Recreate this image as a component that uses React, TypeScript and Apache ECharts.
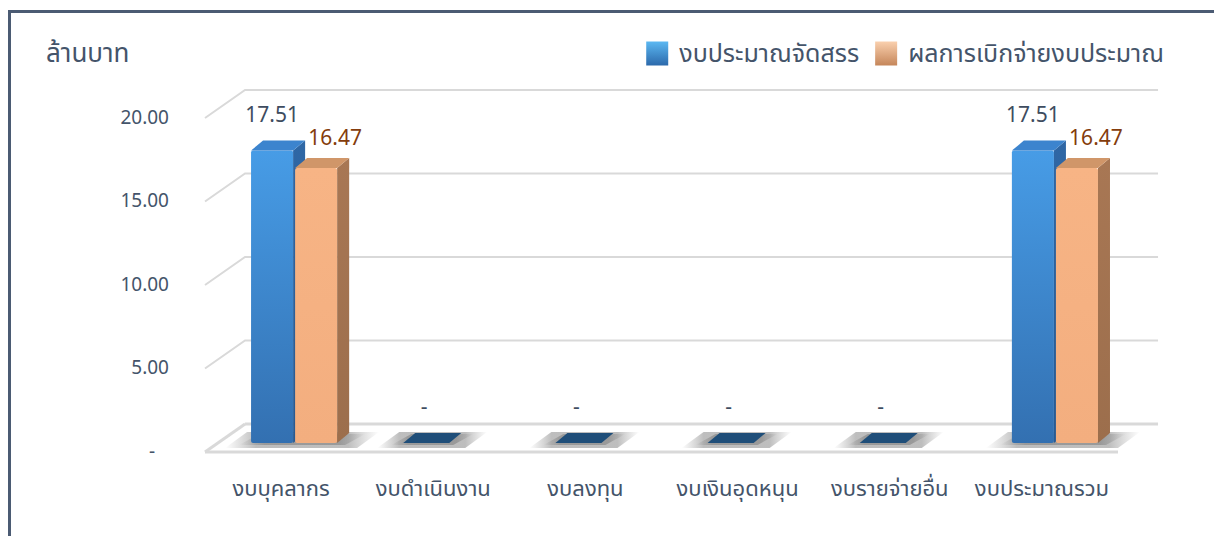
import React, { useEffect, useRef } from "react";
import * as echarts from "echarts";

const categories = ["งบบุคลากร", "งบดำเนินงาน", "งบลงทุน", "งบเงินอุดหนุน", "งบรายจ่ายอื่น", "งบประมาณรวม"];
const allocated = [17.51, 0, 0, 0, 0, 17.51];
const disbursed = [16.47, 0, 0, 0, 0, 16.47];
const seriesNames = ["งบประมาณจัดสรร", "ผลการเบิกจ่ายงบประมาณ"];
const yTicks = [0, 5, 10, 15, 20];
const unitLabel = "ล้านบาท";

const FONT = "'Noto Sans Thai', 'Leelawadee UI', Tahoma, 'Noto Sans', sans-serif";
const TEXT = "#44546A";

const lin = (c1: string, c2: string, horizontal = false) => ({
  type: "linear",
  x: 0,
  y: 0,
  x2: horizontal ? 1 : 0,
  y2: horizontal ? 0 : 1,
  colorStops: [
    { offset: 0, color: c1 },
    { offset: 1, color: c2 },
  ],
});

const palette = [
  {
    front: lin("#479CE6", "#3370B1"),
    side: lin("#2F67A5", "#285A92"),
    top: "#3C84CE",
    zero: "#1F4E79",
    label: "#3E4C60",
    legend: lin("#5BB8F2", "#2C69AB"),
  },
  {
    front: lin("#F7B485", "#F3AE7F"),
    side: lin("#A87754", "#9C6E4C"),
    top: "#D09669",
    zero: "#C48D63",
    label: "#843C0C",
    legend: lin("#FAD0AE", "#C5865A"),
  },
];

const shadowFill = {
  type: "linear",
  x: 0,
  y: 0,
  x2: 1,
  y2: 0,
  colorStops: [
    { offset: 0, color: "rgba(120,120,120,0)" },
    { offset: 0.2, color: "rgba(110,110,110,0.45)" },
    { offset: 0.8, color: "rgba(110,110,110,0.45)" },
    { offset: 1, color: "rgba(120,120,120,0)" },
  ],
};

export default function App() {
  const ref = useRef<HTMLDivElement>(null);

  useEffect(() => {
    if (!ref.current) return;
    const chart = echarts.init(ref.current, undefined, { renderer: "svg" });

    const depth = (bw: number) => ({ x: (bw * 40) / 152, y: (-bw * 28) / 152 });

    const wallSeries = {
      type: "custom",
      z: 1,
      silent: true,
      encode: { x: 0, y: 1 },
      data: yTicks.map((v) => [0, v]),
      renderItem: (params: any, api: any) => {
        const v = api.value(1);
        const p = api.coord([0, v]);
        const bw = api.size([1, 0])[0];
        const d = depth(bw);
        const xL = p[0] - bw / 2;
        const xR = xL + bw * categories.length;
        const y = p[1];
        const style = { stroke: "#D9D9D9", lineWidth: 2, fill: "none" };
        if (v === 0) {
          const fs = { stroke: "#D9D9D9", lineWidth: 3, fill: "none" };
          return {
            type: "group",
            children: [
              { type: "line", shape: { x1: xL, y1: y, x2: xR, y2: y }, style: fs },
              { type: "line", shape: { x1: xL, y1: y, x2: xL + d.x, y2: y + d.y }, style: fs },
              { type: "line", shape: { x1: xL + d.x, y1: y + d.y, x2: xR + d.x, y2: y + d.y }, style: fs },
            ],
          };
        }
        return {
          type: "polyline",
          shape: {
            points: [
              [xL, y],
              [xL + d.x, y + d.y],
              [xR + d.x, y + d.y],
            ],
          },
          style,
        };
      },
    };

    const geom = (api: any, i: number, v: number, s: number) => {
      const base = api.coord([i, 0]);
      const top = api.coord([i, v]);
      const bw = api.size([1, 0])[0];
      const k = bw / 152;
      const fdx = 13 * k, fdy = -9 * k;
      const w = 42 * k, gap = 2 * k;
      const ddx = 12 * k, ddy = -10 * k;
      const cx = base[0] + fdx;
      const x0 = s === 0 ? cx - gap / 2 - w : cx + gap / 2;
      return { x0, w, yB: base[1] + fdy, yT: top[1] + fdy, ddx, ddy, k };
    };

    const shadowSeries = {
      type: "custom",
      z: 2,
      silent: true,
      encode: { x: 0, y: 1 },
      data: categories.map((c, i) => [i, allocated[i], disbursed[i]]),
      renderItem: (params: any, api: any) => {
        const i = api.value(0);
        const a = api.value(1);
        const b = api.value(2);
        const g0 = geom(api, i, a, 0);
        const g1 = geom(api, i, b, 1);
        const right = b > 0 ? g1.x0 + g1.w : g0.x0 + g0.w;
        const x0 = g0.x0;
        const yB = g0.yB;
        const outer = [
          [x0 - 26, yB + 5],
          [right + 20, yB + 5],
          [right + g0.ddx + 30, yB + g0.ddy - 1],
          [x0 + g0.ddx - 16, yB + g0.ddy - 1],
        ];
        const inner = [
          [x0 - 12, yB + 2],
          [right + 8, yB + 2],
          [right + g0.ddx + 16, yB + g0.ddy + 1],
          [x0 + g0.ddx - 4, yB + g0.ddy + 1],
        ];
        return {
          type: "group",
          children: [
            { type: "polygon", shape: { points: outer }, style: { fill: shadowFill } },
            { type: "polygon", shape: { points: inner }, style: { fill: shadowFill } },
          ],
        };
      },
    };

    const barSeries = (s: number, values: number[]) => ({
      type: "custom",
      name: seriesNames[s],
      z: 3 + s,
      encode: { x: 0, y: 1 },
      itemStyle: { color: palette[s].legend },
      data: values.map((v, i) => [i, v]),
      renderItem: (params: any, api: any) => {
        const i = api.value(0);
        const v = api.value(1);
        const { x0, w, yB, yT, ddx, ddy } = geom(api, i, v, s);
        const pal = palette[s];
        const children: any[] = [];
        if (v > 0) {
          children.push({
            type: "rect",
            shape: { x: x0, y: yT, width: w, height: yB - yT, r: 2 },
            style: { fill: pal.front },
          });
          children.push({
            type: "polygon",
            shape: {
              points: [
                [x0 + w, yB],
                [x0 + w, yT],
                [x0 + w + ddx, yT + ddy],
                [x0 + w + ddx, yB + ddy],
              ],
            },
            style: { fill: pal.side },
          });
          children.push({
            type: "polygon",
            shape: {
              points: [
                [x0, yT],
                [x0 + w, yT],
                [x0 + w + ddx, yT + ddy],
                [x0 + ddx, yT + ddy],
              ],
            },
            style: { fill: pal.top },
          });
        } else if (s === 0) {
          children.push({
            type: "polygon",
            shape: {
              points: [
                [x0, yB],
                [x0 + w + 4, yB],
                [x0 + w + 4 + ddx, yB + ddy],
                [x0 + ddx, yB + ddy],
              ],
            },
            style: { fill: pal.zero },
          });
        }
        if (v > 0 || s === 0) {
          const lx = x0 + w / 2 + (s === 0 ? 0 : 19);
          const ly = yT - (s === 0 ? 35 : 29);
          children.push({
            type: "text",
            x: lx,
            y: ly,
            style: {
              text: v === 0 ? "-" : v.toFixed(2),
              fill: pal.label,
              fontSize: 21,
              fontFamily: FONT,
              align: "center",
              verticalAlign: "middle",
            },
          });
        }
        return { type: "group", children };
      },
    });

    chart.setOption({
      animation: false,
      backgroundColor: "#FFFFFF",
      title: {
        text: unitLabel,
        left: 41,
        top: 36,
        textStyle: { fontSize: 26, fontWeight: "normal", color: TEXT, fontFamily: FONT },
      },
      legend: {
        right: 45,
        top: 36,
        itemWidth: 22,
        itemHeight: 24,
        itemGap: 16,
        icon: "rect",
        textStyle: { fontSize: 25, color: TEXT, fontFamily: FONT, padding: [0, 0, 0, 6] },
        data: seriesNames.map((n, s) => ({ name: n, itemStyle: { color: palette[s].legend } })),
      },
      grid: { left: 205, right: 96, top: 118, bottom: 84, containLabel: false },
      xAxis: {
        type: "category",
        data: categories,
        axisLine: { show: false },
        axisTick: { show: false },
        splitLine: { show: false },
        axisLabel: { fontSize: 22, color: TEXT, fontFamily: FONT, margin: 26, interval: 0 },
      },
      yAxis: {
        type: "value",
        min: 0,
        max: 20,
        interval: 5,
        axisLine: { show: false },
        axisTick: { show: false },
        splitLine: { show: false },
        axisLabel: {
          fontSize: 19,
          color: TEXT,
          fontFamily: FONT,
          margin: 36,
          formatter: (v: number) => (v === 0 ? "{d|-}" : v.toFixed(2)),
          rich: { d: { fontSize: 19, color: TEXT, fontFamily: FONT, padding: [0, 14, 0, 0] } },
        },
      },
      graphic: [
        {
          type: "rect",
          silent: true,
          z: 100,
          shape: { x: 9.5, y: 11.5, width: 1400, height: 800 },
          style: { fill: "none", stroke: "#4B5B73", lineWidth: 3 },
        },
      ],
      series: [wallSeries, shadowSeries, barSeries(0, allocated), barSeries(1, disbursed)],
    });

    return () => chart.dispose();
  }, []);

  return (
    <div
      ref={ref}
      style={{ position: "absolute", left: 0, top: 0, width: 1214, height: 536 }}
    />
  );
}
